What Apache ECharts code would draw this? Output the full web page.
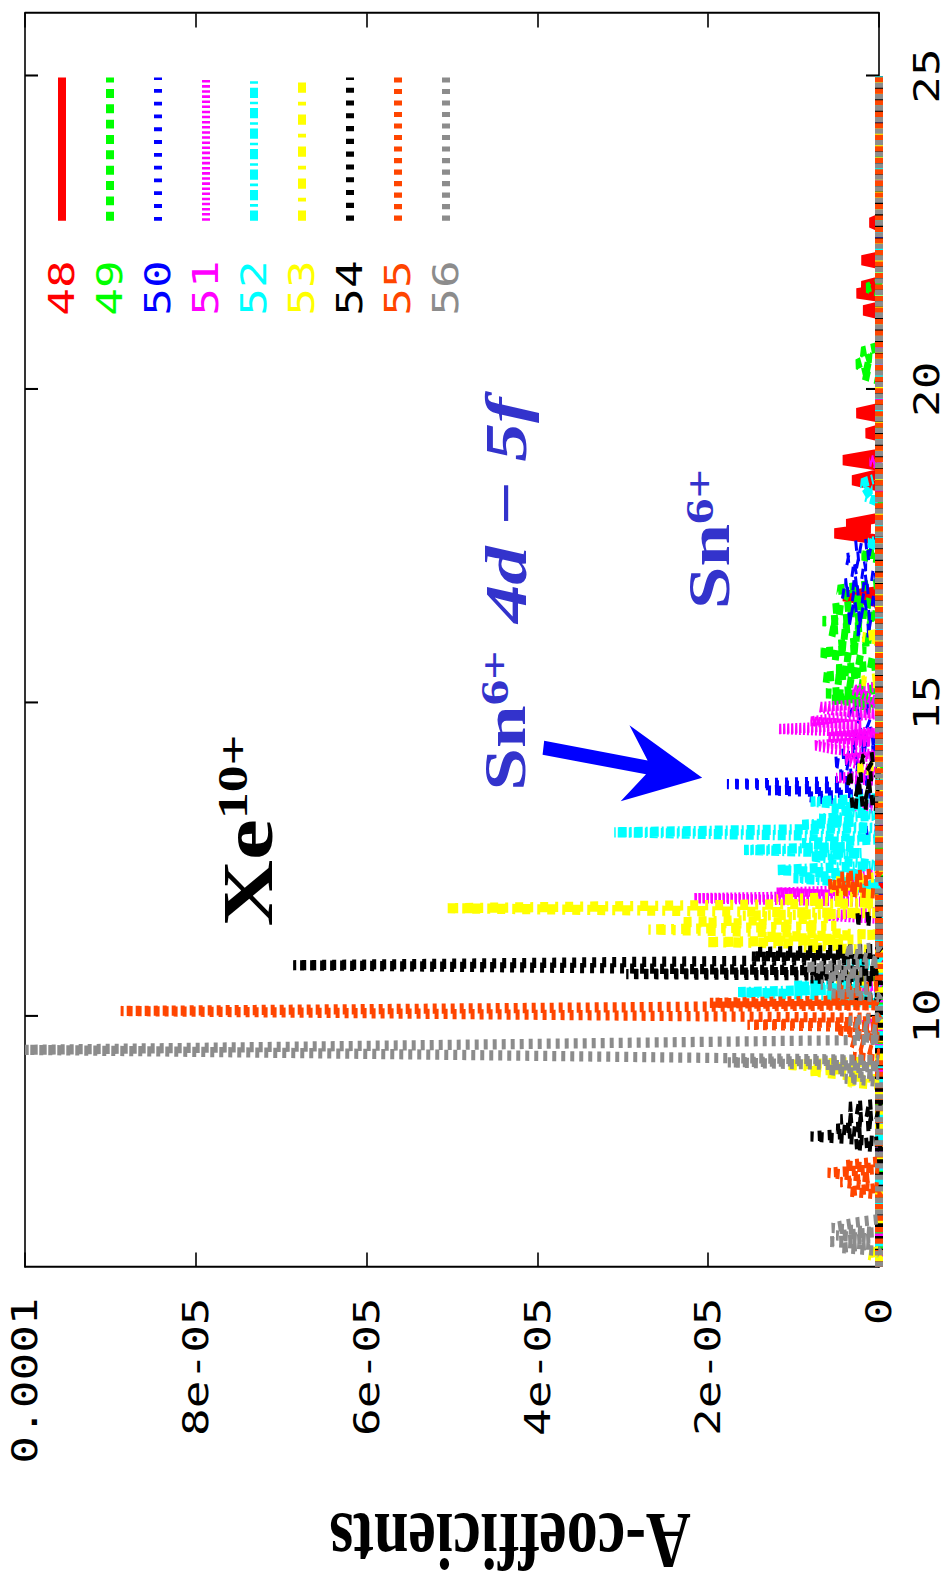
<!DOCTYPE html>
<html>
<head>
<meta charset="utf-8">
<script src="https://cdn.jsdelivr.net/npm/echarts@6/dist/echarts.min.js"></script>
<style>
  html, body { margin: 0; padding: 0; background: #fff; overflow: hidden; width: 949px; height: 1584px; }
  /* the plot is laid out landscape, then turned a quarter turn to stand upright */
  #chart {
    position: absolute; left: 0; top: 0; width: 1238px; height: 949px;
    transform-origin: 0 0;
    transform: translate(0px, 1584px) rotate(-90deg) scale(1.27948, 1);
  }
</style>
</head>
<body>
<div id="chart"></div>
<script>
// Iso-electronic sequences (number of electrons) and their line styles
const seqNames = ['48', '49', '50', '51', '52', '53', '54', '55', '56'];
const seqColors = ['#ff0000', '#00ff00', '#0000ff', '#ff00ff', '#00ffff', '#ffff00', '#000000', '#ff4500', '#8c8c8c'];
const seqDashes = ['solid', [7, 5], [3, 7], [2, 2], [8, 3, 2, 3], [8, 7, 3, 7], [4, 6], [4, 5], [4, 5]];

// Axis ticks
const wavelengthTicks = [10, 15, 20, 25];
const coeffTickLabels = ['0', '2e-05', '4e-05', '6e-05', '8e-05', '0.0001'];

// [wavelength, A-coefficient] per sequence
const lines48 = [[6,0],[16.6,0],[16.7,0.42e-5],[16.78,0],[17.6,0],[17.7,0.52e-5],[17.78,0.1e-5],[17.85,0.38e-5],[17.95,0],
  [18.45,0],[18.55,0.31e-5],[18.65,0],[18.78,0],[18.87,0.42e-5],[18.97,0],[19.25,0],[19.3,0.15e-5],[19.36,0],
  [19.55,0],[19.62,0.26e-5],[19.7,0],[21.2,0],[21.26,0.18e-5],[21.32,0],[21.48,0],[21.53,0.26e-5],[21.58,0.05e-5],
  [21.65,0.2e-5],[21.72,0],[22.0,0],[22.06,0.2e-5],[22.12,0],[22.6,0],[22.66,0.1e-5],[22.72,0],[25,0]];

const lines49 = [[6,0],[14.9,0],[14.95,0.3e-5],[15.0,0],[15.05,0.55e-5],[15.1,0.1e-5],[15.15,0.62e-5],[15.22,0],
  [15.35,0.4e-5],[15.41,0.66e-5],[15.47,0.2e-5],[15.53,0.5e-5],[15.6,0],[15.72,0.35e-5],[15.8,0.68e-5],[15.86,0.15e-5],
  [15.92,0.5e-5],[16.0,0],[16.1,0.45e-5],[16.16,0.6e-5],[16.22,0.1e-5],[16.3,0.66e-5],[16.38,0],[16.5,0.55e-5],
  [16.58,0.1e-5],[16.65,0.3e-5],[16.8,0.48e-5],[16.9,0],[17.3,0],[17.35,0.2e-5],[17.4,0],[20.15,0],[20.25,0.22e-5],
  [20.32,0.08e-5],[20.4,0.26e-5],[20.5,0.1e-5],[20.6,0.2e-5],[20.68,0],[21.55,0],[21.62,0.14e-5],[21.7,0],[25,0]];

const lines50 = [[6,0],[12.9,0],[12.95,0.15e-5],[13.0,0],[13.4,0],[13.45,0.6e-5],[13.5,0.85e-5],[13.55,0.1e-5],
  [13.6,1.3e-5],[13.65,0.2e-5],[13.7,1.78e-5],[13.76,0],[13.85,0.5e-5],[13.9,0],[14.05,0.55e-5],[14.1,0.2e-5],
  [14.18,0.45e-5],[14.25,0],[14.35,0.35e-5],[14.42,0],[14.5,0.3e-5],[14.55,0],[14.85,0.35e-5],[14.92,0],[16.1,0],
  [16.15,0.3e-5],[16.2,0],[16.35,0.4e-5],[16.4,0.1e-5],[16.5,0.35e-5],[16.6,0],[16.75,0.45e-5],[16.82,0.1e-5],
  [16.9,0.4e-5],[17.0,0],[17.1,0.35e-5],[17.18,0.15e-5],[17.3,0.42e-5],[17.38,0],[17.5,0.3e-5],[17.56,0],[25,0]];

const lines51 = [[6,0],[9.8,0],[9.85,0.2e-5],[9.9,0],[10.4,0],[10.45,0.25e-5],[10.5,0],[11.55,0],[11.6,0.6e-5],
  [11.66,0],[11.82,0],[11.88,2.17e-5],[11.92,0.3e-5],[11.97,1.2e-5],[12.02,0],[12.25,0.35e-5],[12.3,0],[13.3,0],
  [13.35,0.3e-5],[13.4,0],[13.75,0],[13.8,0.5e-5],[13.86,0],[14.1,0.4e-5],[14.16,0],[14.26,0.55e-5],[14.32,0.76e-5],
  [14.38,0.1e-5],[14.45,0.6e-5],[14.52,0],[14.58,1.18e-5],[14.64,0.2e-5],[14.7,0.8e-5],[14.76,0.5e-5],[14.82,0],
  [14.88,0.55e-5],[14.93,0.7e-5],[15.0,0],[15.2,0.3e-5],[15.26,0],[18.8,0],[18.85,0.1e-5],[18.9,0],[25,0]];

const lines52 = [[6,0],[10.2,0],[10.25,0.5e-5],[10.3,0],[10.38,1.65e-5],[10.43,0.3e-5],[10.48,1.0e-5],[10.54,0],
  [10.8,0],[10.85,0.4e-5],[10.9,0],[12.0,0],[12.05,0.3e-5],[12.1,0],[12.2,1.0e-5],[12.26,0.2e-5],[12.33,1.2e-5],
  [12.4,0],[12.55,0.8e-5],[12.6,0.2e-5],[12.65,1.58e-5],[12.7,0.3e-5],[12.76,0.9e-5],[12.82,0],[12.86,0],
  [12.93,3.1e-5],[13.0,0],[13.05,0.9e-5],[13.1,0.3e-5],[13.15,0.7e-5],[13.2,0],[13.3,0.55e-5],[13.36,0.2e-5],
  [13.42,0.8e-5],[13.48,0],[17.5,0],[17.55,0.12e-5],[17.6,0],[18.2,0],[18.3,0.18e-5],[18.4,0.1e-5],[18.5,0.2e-5],
  [18.6,0],[25,0]];

const lines53 = [[6,0],[6.15,0],[6.2,0.15e-5],[6.25,0],[8.9,0],[8.95,0.4e-5],[9.0,0],[9.12,0.8e-5],[9.17,0.3e-5],
  [9.22,1.07e-5],[9.28,0],[10.55,0],[10.6,0.5e-5],[10.65,0],[11.05,0],[11.1,0.9e-5],[11.14,0.2e-5],[11.18,2.0e-5],
  [11.22,0.3e-5],[11.26,1.37e-5],[11.3,0],[11.38,2.7e-5],[11.44,0.5e-5],[11.5,2.3e-5],[11.56,0.6e-5],[11.6,1.6e-5],
  [11.64,0],[11.72,5.05e-5],[11.8,0],[11.86,1.2e-5],[11.92,0],[12.05,0.6e-5],[12.1,0.2e-5],[12.15,0.5e-5],[12.22,0],
  [13.9,0],[13.95,0.25e-5],[14.0,0],[15.3,0],[15.35,0.2e-5],[15.4,0],[16.0,0],[16.05,0.2e-5],[16.1,0],[25,0]];

const lines54 = [[6,0],[7.9,0],[7.95,0.3e-5],[8.0,0],[8.08,0.8e-5],[8.14,0.2e-5],[8.2,0.5e-5],[8.26,0],
  [8.35,0.45e-5],[8.42,0],[8.55,0.35e-5],[8.6,0],[10.2,0],[10.25,0.3e-5],[10.3,0],[10.55,0],[10.6,0.8e-5],
  [10.64,0],[10.67,2.96e-5],[10.72,0],[10.81,6.86e-5],[10.9,0],[10.95,1.5e-5],[10.99,0],[11.02,1.45e-5],[11.07,0],
  [11.5,0],[11.55,0.3e-5],[11.6,0],[13.35,0],[13.4,0.35e-5],[13.46,0],[13.6,0.3e-5],[13.66,0],[13.78,0.4e-5],
  [13.84,0],[14.1,0.2e-5],[14.15,0],[25,0]];

const lines55 = [[6,0],[7.15,0],[7.2,0.35e-5],[7.26,0],[7.35,0.45e-5],[7.42,0.1e-5],[7.5,0.6e-5],[7.56,0],
  [7.62,0.4e-5],[7.68,0],[9.3,0],[9.35,0.3e-5],[9.4,0],[9.6,0.35e-5],[9.66,0],[9.78,0.5e-5],[9.82,0],
  [9.86,1.54e-5],[9.92,0],[9.97,0],[10.08,8.88e-5],[10.17,0],[10.21,1.98e-5],[10.26,0],[10.32,0.56e-5],
  [10.38,0.2e-5],[10.42,0.5e-5],[10.48,0],[11.95,0],[12.0,0.5e-5],[12.05,0.2e-5],[12.1,0.6e-5],[12.16,0.1e-5],
  [12.22,0.45e-5],[12.28,0],[25,0]];

const lines56 = [[6,0],[6.25,0],[6.3,0.45e-5],[6.35,0.1e-5],[6.4,0.6e-5],[6.45,0.1e-5],[6.5,0.5e-5],[6.55,0.05e-5],
  [6.62,0.55e-5],[6.7,0.3e-5],[6.76,0],[8.95,0],[9.0,0.4e-5],[9.06,0],[9.14,0.6e-5],[9.2,0],[9.26,1.77e-5],
  [9.30,0],[9.46,1.0e-4],[9.62,0],[9.7,0.3e-5],[9.76,0],[9.92,0.35e-5],[9.98,0],[10.3,0],[10.36,0.55e-5],
  [10.42,0.1e-5],[10.5,0.68e-5],[10.56,0.15e-5],[10.62,0.6e-5],[10.7,0.2e-5],[10.78,0.85e-5],[10.85,0],
  [11.05,0.4e-5],[11.1,0],[25,0]];

const seqData = [lines48, lines49, lines50, lines51, lines52, lines53, lines54, lines55, lines56];

// Labels written on the plot: [rich text, wavelength, coefficient] at the left edge / cap middle
const labelXe = ['{b|Xe}{s|10+}', 11.43, 7.39e-5];
const labelSnLeft = ['{b|Sn}{s|6+}', 13.595, 4.38e-5];
const labelTransition = ['4d \u2212 5f', 16.27, 4.37e-5];
const labelSnRight = ['{b|Sn}{s|6+}', 16.49, 1.99e-5];
// Arrow from the Sn6+ label down to the 4d-5f peak: [wavelength, coefficient]
const arrowTail = [14.28, 3.93e-5];
const arrowTip = [13.80, 2.07e-5];

const MONO = 'DejaVu Sans Mono';
const SERIF = 'Liberation Serif';
const frameLine = { show: true, onZero: false, lineStyle: { color: '#000', width: 1.6 } };
const tickLine = { color: '#000', width: 1.6 };

const chart = echarts.init(document.getElementById('chart'), null, { renderer: 'svg', width: 1238, height: 949 });

chart.setOption({
  animation: false,
  backgroundColor: '#ffffff',
  grid: { left: 248, right: 10.4, top: 25, bottom: 70 },
  xAxis: [
    {
      type: 'value', min: 6, max: 26, position: 'bottom',
      axisLine: frameLine,
      axisTick: { show: true, inside: true, length: 13, customValues: wavelengthTicks, lineStyle: tickLine },
      axisLabel: { customValues: wavelengthTicks, margin: 30, fontFamily: MONO, fontSize: 36, color: '#000' },
      splitLine: { show: false }
    },
    {
      type: 'value', min: 6, max: 26, position: 'top',
      axisLine: frameLine,
      axisTick: { show: true, inside: true, length: 13, customValues: wavelengthTicks, lineStyle: tickLine },
      axisLabel: { show: false },
      splitLine: { show: false }
    }
  ],
  yAxis: [
    {
      type: 'value', min: 0, max: 1e-4, interval: 2e-5, position: 'left',
      axisLine: frameLine,
      axisTick: { show: true, inside: true, length: 11, lineStyle: tickLine },
      axisLabel: {
        margin: 24, fontFamily: MONO, fontSize: 36, color: '#000',
        formatter: (v) => coeffTickLabels[Math.round(v / 2e-5)]
      },
      splitLine: { show: false }
    },
    {
      type: 'value', min: 0, max: 1e-4, interval: 2e-5, position: 'right',
      axisLine: frameLine,
      axisTick: { show: true, inside: true, length: 11, lineStyle: tickLine },
      axisLabel: { show: false },
      splitLine: { show: false }
    }
  ],
  legend: {
    orient: 'vertical', right: 56.5, top: 42, padding: 0,
    itemWidth: 112, itemHeight: 8, itemGap: 8, align: 'right',
    selectedMode: false,
    lineStyle: { width: 8 },
    itemStyle: { opacity: 0 },
    textStyle: { fontFamily: MONO, fontSize: 36, lineHeight: 40, padding: [0, 26, 0, 0] },
    data: seqNames.map((n, i) => ({ name: n, textStyle: { color: seqColors[i] } }))
  },
  series: seqNames.map((n, i) => ({
    type: 'line',
    name: n,
    data: seqData[i],
    xAxisIndex: 0,
    yAxisIndex: 0,
    symbol: 'none',
    clip: false,
    silent: true,
    color: seqColors[i],
    lineStyle: { color: seqColors[i], width: 8, type: seqDashes[i] }
  }))
});

// Annotations placed through the grid's own coordinate system
const toPx = (p) => chart.convertToPixel({ gridIndex: 0 }, p);
const richStyle = (size, supSize, color) => ({
  b: { fontSize: size, fontWeight: 'bold', fontFamily: SERIF, fill: color, lineHeight: size, verticalAlign: 'bottom' },
  s: { fontSize: supSize, fontWeight: 'bold', fontFamily: SERIF, fill: color, lineHeight: supSize, verticalAlign: 'top' }
});
function richLabel(def, size, supSize, color) {
  const p = toPx([def[1], def[2]]);
  return {
    type: 'text', x: p[0], y: p[1], silent: true,
    style: { text: def[0], rich: richStyle(size, supSize, color), align: 'left', verticalAlign: 'middle' }
  };
}

const tail = toPx(arrowTail);
const tip = toPx(arrowTip);
const dx = tip[0] - tail[0], dy = tip[1] - tail[1];
const len = Math.hypot(dx, dy);
const ux = dx / len, uy = dy / len;     // along the arrow
const nx = -uy, ny = ux;                 // across the arrow
const shaftHalf = 5.5, headBack = 78, headHalf = 30, notchBack = 56;
const pt = (along, across) => [tip[0] + ux * along + nx * across, tip[1] + uy * along + ny * across];
const arrowPoints = [
  [tail[0] + nx * shaftHalf, tail[1] + ny * shaftHalf],
  pt(-notchBack, shaftHalf),
  pt(-headBack, headHalf),
  [tip[0], tip[1]],
  pt(-headBack, -headHalf),
  pt(-notchBack, -shaftHalf),
  [tail[0] - nx * shaftHalf, tail[1] - ny * shaftHalf]
];

const transitionPos = toPx([labelTransition[1], labelTransition[2]]);

chart.setOption({
  graphic: [
    richLabel(labelXe, 72, 42, '#000000'),
    richLabel(labelSnLeft, 60, 40, '#3333cc'),
    richLabel(labelSnRight, 60, 40, '#3333cc'),
    {
      type: 'text', x: transitionPos[0], y: transitionPos[1], silent: true,
      style: {
        text: labelTransition[0], fontSize: 60, fontStyle: 'italic', fontWeight: 'bold',
        fontFamily: SERIF, fill: '#3333cc', align: 'left', verticalAlign: 'middle'
      }
    },
    {
      type: 'polygon', silent: true,
      shape: { points: arrowPoints },
      style: { fill: '#0000ff', stroke: 'none' }
    },
    {
      type: 'text', x: 34, y: 510, rotation: Math.PI / 2, silent: true,
      style: {
        text: 'A-coefficients', fontSize: 62, fontWeight: 'bold', fontFamily: SERIF,
        fill: '#000', align: 'center', verticalAlign: 'middle'
      }
    }
  ]
});
</script>
</body>
</html>
